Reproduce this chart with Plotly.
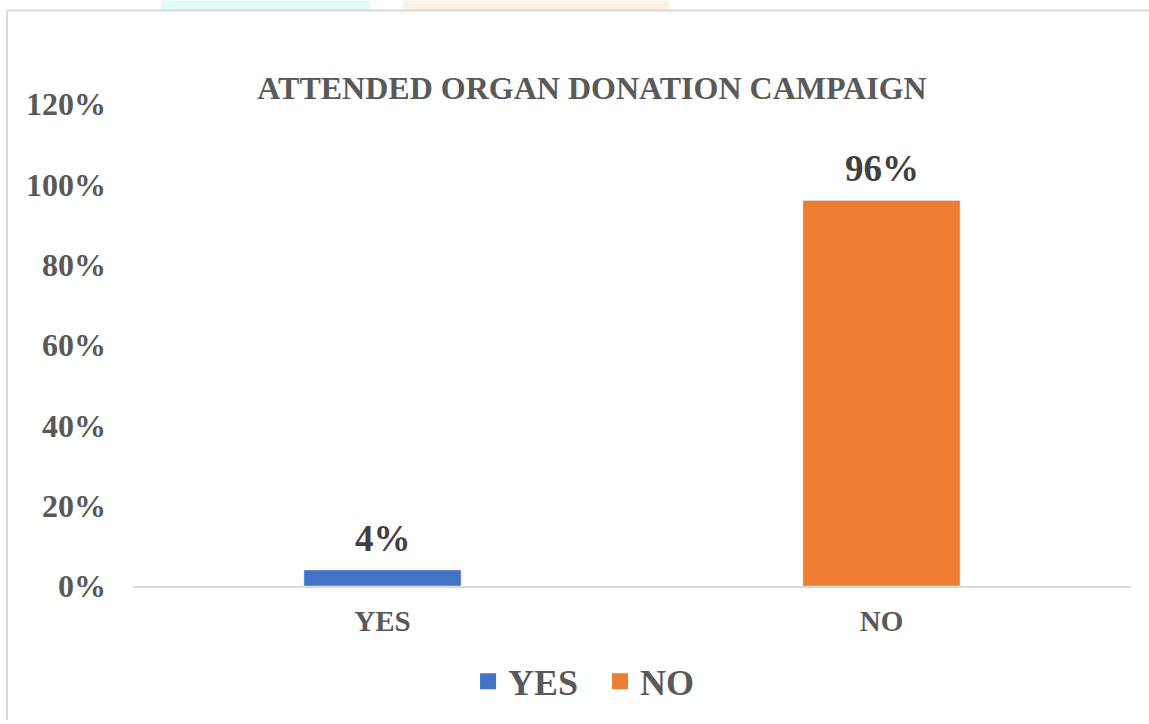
import plotly.graph_objects as go

categories = ["YES", "NO"]
values = [0.04, 0.96]
colors = ["#4472C4", "#ED7D31"]
title_text = "ATTENDED ORGAN DONATION CAMPAIGN"
y_tick_vals = [0, 0.2, 0.4, 0.6, 0.8, 1.0, 1.2]

FONT = "Liberation Serif"
GREY = "#595959"

fig = go.Figure()
for cat, val, col in zip(categories, values, colors):
    fig.add_trace(go.Bar(
        x=[cat], y=[val], name=cat, marker_color=col, showlegend=False,
    ))
    fig.add_annotation(
        x=cat, y=val, xref="x", yref="y", text=f"{val:.0%}", showarrow=False,
        yanchor="bottom", yshift=9,
        font=dict(family=FONT, size=37, color="#404040", weight="bold"),
    )
for cat, col in zip(categories, colors):
    fig.add_trace(go.Scatter(
        x=[None], y=[None], mode="markers", name=cat,
        marker=dict(symbol="square", size=16, color=col),
    ))

fig.update_layout(
    width=1149, height=724,
    margin=dict(l=133, r=18, t=104, b=135),
    paper_bgcolor="white", plot_bgcolor="white",
    barmode="overlay", bargap=0.685,
    title=dict(text=title_text, x=592/1149, xref="container", xanchor="center",
               y=1-88/724, yref="container", yanchor="middle",
               font=dict(family=FONT, size=32, color=GREY, weight="bold")),
    legend=dict(orientation="h", x=0.468, xanchor="center", y=-0.198, yanchor="middle",
                font=dict(family=FONT, size=36, color=GREY, weight="bold"),
                itemwidth=30, traceorder="normal", entrywidth=87, entrywidthmode="pixels"),
    showlegend=True,
)
fig.update_xaxes(
    categoryorder="array", categoryarray=categories,
    showline=True, linecolor="#D9D9D9", linewidth=2, showgrid=False,
    tickfont=dict(family=FONT, size=29, color=GREY, weight="bold"),
    ticklabelstandoff=8, zeroline=False,
)
fig.update_yaxes(
    range=[0, 1.2], tickvals=y_tick_vals, tickformat=".0%",
    showgrid=False, zeroline=False, showline=False,
    tickfont=dict(family=FONT, size=32, color=GREY, weight="bold"),
    ticklabelstandoff=26,
)

def px_x(p):
    return (p - 133) / 998

def px_y(p):
    return (589 - p) / 485

# faint background strip above the frame
fig.add_shape(type="rect", xref="paper", yref="paper", layer="below", line_width=0,
              x0=px_x(161), x1=px_x(370), y0=px_y(10), y1=px_y(0), fillcolor="#DDFBFB")
fig.add_shape(type="rect", xref="paper", yref="paper", layer="below", line_width=0,
              x0=px_x(403), x1=px_x(669), y0=px_y(10), y1=px_y(0), fillcolor="#FDF0E4")
# chart frame (left and top edges)
fig.add_shape(type="line", xref="paper", yref="paper", x0=px_x(7), x1=px_x(7),
              y0=px_y(724), y1=px_y(10), line=dict(color="#D9D9D9", width=2))
fig.add_shape(type="line", xref="paper", yref="paper", x0=px_x(7), x1=px_x(1149),
              y0=px_y(10), y1=px_y(10), line=dict(color="#D9D9D9", width=2))

fig.write_html("out.html")
